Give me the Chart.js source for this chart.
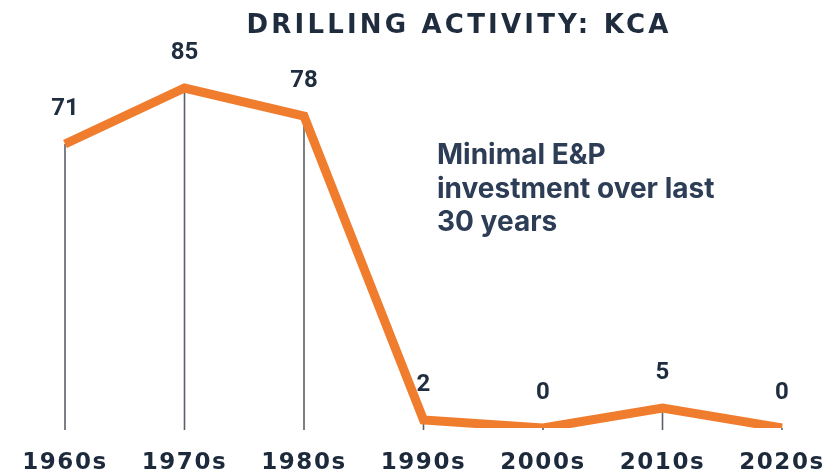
<!DOCTYPE html>
<html>
<head>
<meta charset="utf-8">
<script src="https://cdn.jsdelivr.net/npm/chart.js@4.4.1/dist/chart.umd.min.js"></script>
<style>
  html, body { margin: 0; padding: 0; background: #ffffff; }
  #wrap { width: 828px; height: 475px; position: relative; }
</style>
</head>
<body>
<div id="wrap"><canvas id="grafico"></canvas></div>
<script>
// Datos del grafico
const decadas = ['1960s', '1970s', '1980s', '1990s', '2000s', '2010s', '2020s'];
const pozos = [71, 85, 78, 2, 0, 5, 0];

const titulo = 'DRILLING ACTIVITY: KCA';
const nota = ['Minimal E&P', 'investment over last', '30 years'];

const naranja = '#f07d2d';
const azulOscuro = '#1f2d3f';

// Espaciado de letras para las etiquetas del eje X (se quita antes de las series)
const espaciado = {
    id: 'espaciado',
    beforeDraw(chart) { chart.ctx.letterSpacing = '1.6px'; },
    beforeDatasetsDraw(chart) { chart.ctx.letterSpacing = '0px'; }
};

// Lineas verticales desde cada punto hasta la base
const lineasVerticales = {
    id: 'lineasVerticales',
    beforeDatasetsDraw(chart) {
        const ctx = chart.ctx;
        const y = chart.scales.y;
        const base = y.getPixelForValue(0) + 2;
        ctx.save();
        ctx.strokeStyle = '#5b6068';
        ctx.lineWidth = 1.6;
        chart.getDatasetMeta(0).data.forEach(p => {
            ctx.beginPath();
            ctx.moveTo(p.x, p.y);
            ctx.lineTo(p.x, base);
            ctx.stroke();
        });
        ctx.restore();
    }
};

// Etiquetas de valor, titulo y nota
const textos = {
    id: 'textos',
    afterDatasetsDraw(chart) {
        const ctx = chart.ctx;
        ctx.save();
        ctx.letterSpacing = '0px';

        // valores sobre cada punto
        ctx.fillStyle = azulOscuro;
        ctx.font = 'bold 24px Roboto';
        ctx.textAlign = 'center';
        ctx.textBaseline = 'middle';
        chart.getDatasetMeta(0).data.forEach((p, i) => {
            ctx.fillText(String(pozos[i]), p.x, p.y - 35);
        });

        // titulo con espaciado
        ctx.font = 'bold 26px "DejaVu Sans"';
        ctx.letterSpacing = '3.2px';
        ctx.fillStyle = '#1e2c3e';
        ctx.textAlign = 'center';
        ctx.textBaseline = 'alphabetic';
        ctx.fillText(titulo, 459, 33);

        // nota
        ctx.letterSpacing = '0px';
        ctx.font = 'bold 28px Inter';
        ctx.fillStyle = '#2c3d55';
        ctx.textAlign = 'left';
        nota.forEach((t, i) => ctx.fillText(t, 437, 164 + i * 33.5));
        ctx.restore();
    }
};

new Chart(document.getElementById('grafico'), {
    type: 'line',
    data: {
        labels: decadas,
        datasets: [{
            data: pozos,
            borderColor: naranja,
            borderWidth: 9,
            borderJoinStyle: 'miter',
            borderCapStyle: 'butt',
            pointRadius: 0,
            tension: 0,
            fill: false
        }]
    },
    options: {
        responsive: true,
        maintainAspectRatio: false,
        animation: false,
        layout: { padding: { left: 65, right: 46, top: 28, bottom: 0 } },
        plugins: {
            legend: { display: false },
            tooltip: { enabled: false },
            title: { display: false }
        },
        scales: {
            x: {
                offset: false,
                grid: { display: false, drawTicks: false },
                border: { display: false },
                afterFit(scale) {
                    scale.height = 47;
                    scale.paddingLeft = 0;
                    scale.paddingRight = 0;
                },
                ticks: {
                    color: '#1c2a3b',
                    padding: 21,
                    maxRotation: 0,
                    autoSkip: false,
                    font: { family: 'DejaVu Sans', weight: 'bold', size: 23 }
                }
            },
            y: {
                display: false,
                min: 0,
                max: 100
            }
        }
    },
    plugins: [espaciado, lineasVerticales, textos]
});
</script>
</body>
</html>
